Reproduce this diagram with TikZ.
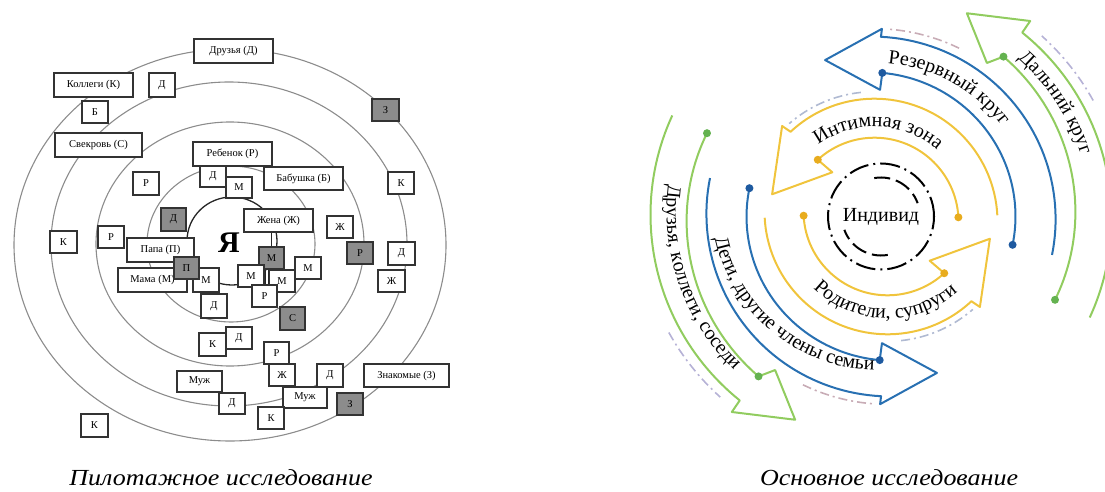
\documentclass[tikz,border=0pt]{standalone}
\usepackage{fontspec}
\setmainfont{Liberation Serif}
\newfontfamily\capfont[FakeStretch=1.13]{Liberation Serif}
\usetikzlibrary{decorations.text,calc}
\definecolor{yelc}{RGB}{240,196,60}
\definecolor{yeldc}{RGB}{232,172,30}
\definecolor{bluc}{RGB}{40,112,178}
\definecolor{bludc}{RGB}{30,90,160}
\definecolor{grnc}{RGB}{145,204,95}
\definecolor{grndc}{RGB}{100,178,80}
\definecolor{ringc}{RGB}{140,140,140}
\definecolor{gdash1}{RGB}{176,186,210}
\definecolor{gdash2}{RGB}{200,172,182}
\definecolor{gdash3}{RGB}{182,178,214}
\definecolor{gboxc}{RGB}{140,140,140}
\newcommand\arcf{\fontsize{20}{24}\selectfont}
\newcommand\mybox[7]{\node[#1, minimum width={#5pt-#3pt}, minimum height={#6pt-#4pt}] (#2) at ({(#3+#5)/2},{(#4+#6)/2}) {#7};}
\newcommand\upperhalf{%
 \draw[gdA] (96:130) arc[start angle=96, end angle=131, radius=130];
 \draw[gdB] (64:193) arc[start angle=64, end angle=86, radius=193];
 \draw[gdC] (29:250) arc[start angle=29, end angle=48, radius=250];
 \draw[yel] (3:84) arc[start angle=3,end angle=132.5,radius=84] -- (130.5:65) -- (165:106) -- (134:133) -- (133:123) arc[start angle=133,end angle=3,radius=123];
 \fill[yeldc] (3:84) circle[radius=4] (132.5:84) circle[radius=4];
 \draw[blu] plot[domain=-9.5:87,samples=50,variable=\t] ({\t}:{140+9*(\t+9.5)/96.5}) -- (87.6:132) -- (107:169) -- (87.8:193) -- plot[domain=88:-10.6,samples=50,variable=\t] ({\t}:{185-4.4*(88-\t)/98.6});
 \fill[bludc] (-9.5:140) circle[radius=4] (87:149) circle[radius=4];
 \draw[grn] plot[domain=-23.4:52,samples=50,variable=\t] ({\t}:{196.7+12.8*(\t+23.4)/75.4}) -- (54.7:194.5) -- (66.1:228) -- (52.2:254) -- plot[domain=52:-24,samples=50,variable=\t] ({\t}:{240-4.4*(52-\t)/76});
 \fill[grndc] (-23.4:196.7) circle[radius=4] (52:209.5) circle[radius=4];
}
\begin{document}
\begin{tikzpicture}[x=1pt,y=-1pt,
  box/.style={draw=black!80, line width=1.3pt, fill=white, inner sep=0pt, font=\fontsize{10.5}{12}\selectfont},
  gbox/.style={box, fill=gboxc},
  ring/.style={draw=ringc, line width=1.1pt},
  yel/.style={draw=yelc, line width=2pt, line join=round},
  blu/.style={draw=bluc, line width=2pt, line join=round},
  grn/.style={draw=grnc, line width=2pt, line join=round},
  gdA/.style={draw=gdash1, line width=1.6pt, dash pattern=on 9pt off 4pt on 2pt off 4pt},
  gdB/.style={gdA, draw=gdash2},
  gdC/.style={gdA, draw=gdash3},
  blk/.style={draw=black, line width=2pt},
  captext/.style={font=\capfont\itshape\fontsize{23}{27}\selectfont},
  arctext/.style={decorate, decoration={text along path, text align=center, text={|\arcf|#1}}}]
\useasboundingbox (0,0) rectangle (1105,492);
% ---------- left diagram ----------
\draw[ring] (230,245) ellipse[x radius=216pt, y radius=196pt];
\draw[ring] (229,244) ellipse[x radius=178pt, y radius=162pt];
\draw[ring] (230,244) ellipse[x radius=134pt, y radius=122pt];
\draw[ring] (231,244) ellipse[x radius=84pt, y radius=78pt];
\draw[draw=black!85, line width=1.3pt] (232,241) ellipse[x radius=45pt, y radius=44pt];
\mybox{box}{drz}{194}{39}{273}{63}{Друзья (Д)}
\mybox{box}{kol}{54}{73}{133}{97}{Коллеги (К)}
\mybox{box}{d1}{149}{73}{175}{97}{Д}
\mybox{box}{b1}{82}{101}{108}{123}{Б}
\mybox{box}{svk}{55}{133}{142}{157}{Свекровь (С)}
\mybox{gbox}{z1}{372}{99}{399}{121}{З}
\mybox{box}{reb}{193}{142}{272}{166}{Ребенок (Р)}
\mybox{box}{r1}{133}{172}{159}{195}{Р}
\mybox{box}{d2}{200}{166}{226}{187}{Д}
\mybox{box}{m1}{226}{177}{252}{198}{М}
\mybox{box}{bab}{264}{167}{343}{190}{Бабушка (Б)}
\mybox{box}{k1}{388}{172}{414}{194}{К}
\mybox{gbox}{d3}{161}{208}{186}{231}{Д}
\mybox{box}{zhena}{244}{209}{313}{232}{Жена (Ж)}
\mybox{box}{zh1}{327}{216}{353}{238}{Ж}
\mybox{box}{k2}{50}{231}{77}{253}{К}
\mybox{box}{r2}{98}{226}{124}{248}{Р}
\mybox{box}{papa}{127}{238}{194}{262}{Папа (П)}
\mybox{box}{mama}{118}{268}{187}{292}{Мама (М)}
\mybox{box}{m2}{193}{268}{219}{292}{М}
\mybox{gbox}{p1}{174}{257}{199}{279}{П}
\mybox{box}{d4}{201}{294}{227}{318}{Д}
\mybox{gbox}{r3}{347}{242}{373}{264}{Р}
\mybox{box}{d5}{388}{242}{415}{265}{Д}
\mybox{box}{zh2}{378}{270}{405}{292}{Ж}
\mybox{gbox}{mg}{259}{247}{284}{269}{М}
\mybox{box}{m3}{238}{265}{264}{287}{М}
\mybox{box}{m4}{269}{270}{295}{292}{М}
\mybox{box}{m5}{295}{257}{321}{279}{М}
\mybox{box}{r4}{252}{285}{277}{307}{Р}
\mybox{gbox}{s1}{280}{307}{305}{330}{С}
\mybox{box}{k3}{199}{333}{226}{356}{К}
\mybox{box}{d6}{226}{327}{252}{349}{Д}
\mybox{box}{r5}{264}{342}{289}{364}{Р}
\mybox{box}{zh3}{269}{364}{295}{386}{Ж}
\mybox{box}{d7}{317}{364}{343}{387}{Д}
\mybox{box}{znk}{364}{364}{449}{387}{Знакомые (З)}
\mybox{box}{muzh1}{177}{371}{222}{392}{Муж}
\mybox{box}{d8}{219}{393}{245}{414}{Д}
\mybox{box}{muzh2}{283}{387}{327}{408}{Муж}
\mybox{box}{k4}{258}{407}{284}{429}{К}
\mybox{gbox}{z2}{337}{393}{363}{415}{З}
\mybox{box}{k5}{81}{414}{108}{437}{К}
\draw[black!85, line width=1.2pt] (mg.north) -- (mg.north |- zhena.south);
\draw[black!85, line width=1.1pt] ($(mg.south)+(-6,0)$) -- ($(mg.south |- r4.north)+(-6,0)$);
\draw[black!85, line width=1.1pt] ($(mg.south)+(-3.3,0)$) -- ($(mg.south |- r4.north)+(-3.3,0)$);
\node[font=\bfseries\fontsize{30}{30}\selectfont] (ya) at (229,243) {Я};
\node[captext] (cap1) at (221,478) {Пилотажное исследование};
% ---------- right diagram ----------
\begin{scope}[shift={(874.5,221.7)}, x=1pt, y=1pt]
 \upperhalf
 \path[arctext={Интимная зона}] (135:95) arc[start angle=135, end angle=40, radius=95];
 \path[arctext={Резервный круг}] (95:159) arc[start angle=95, end angle=27, radius=159];
 \path[arctext={Дальний круг}] (61:217) arc[start angle=61, end angle=5.6, radius=217];
\end{scope}
\begin{scope}[shift={(887.5,211.3)}, x=1pt, y=1pt, rotate=180]
 \upperhalf
\end{scope}
\begin{scope}[shift={(887.5,211.3)}, x=1pt, y=1pt]
 \path[arctext={Родители, супруги}] (218:107) arc[start angle=218, end angle=319, radius=107];
 \path[arctext={Дети, другие члены семьи}] plot[domain=180:275, samples=60, variable=\t] ({\t}:{175-16*(\t-188)/78});
 \path[arctext={Друзья, коллеги, соседи}] (165:221) arc[start angle=165, end angle=234, radius=221];
\end{scope}
\begin{scope}[shift={(881,216.5)}, x=1pt, y=1pt]
 \draw[blk, dash pattern=on 20pt off 5pt on 2pt off 5pt] (0,0) circle[radius=53];
 \draw[blk, dash pattern=on 16pt off 6pt] (100:39) arc[start angle=100,end angle=20,radius=39];
 \draw[blk, dash pattern=on 16pt off 6pt] (280:39) arc[start angle=280,end angle=200,radius=39];
 \node[font=\arcf] (ind) at (0,0) {Индивид};
\end{scope}
\node[captext] (cap2) at (889,478) {Основное исследование};
\end{tikzpicture}
\end{document}
